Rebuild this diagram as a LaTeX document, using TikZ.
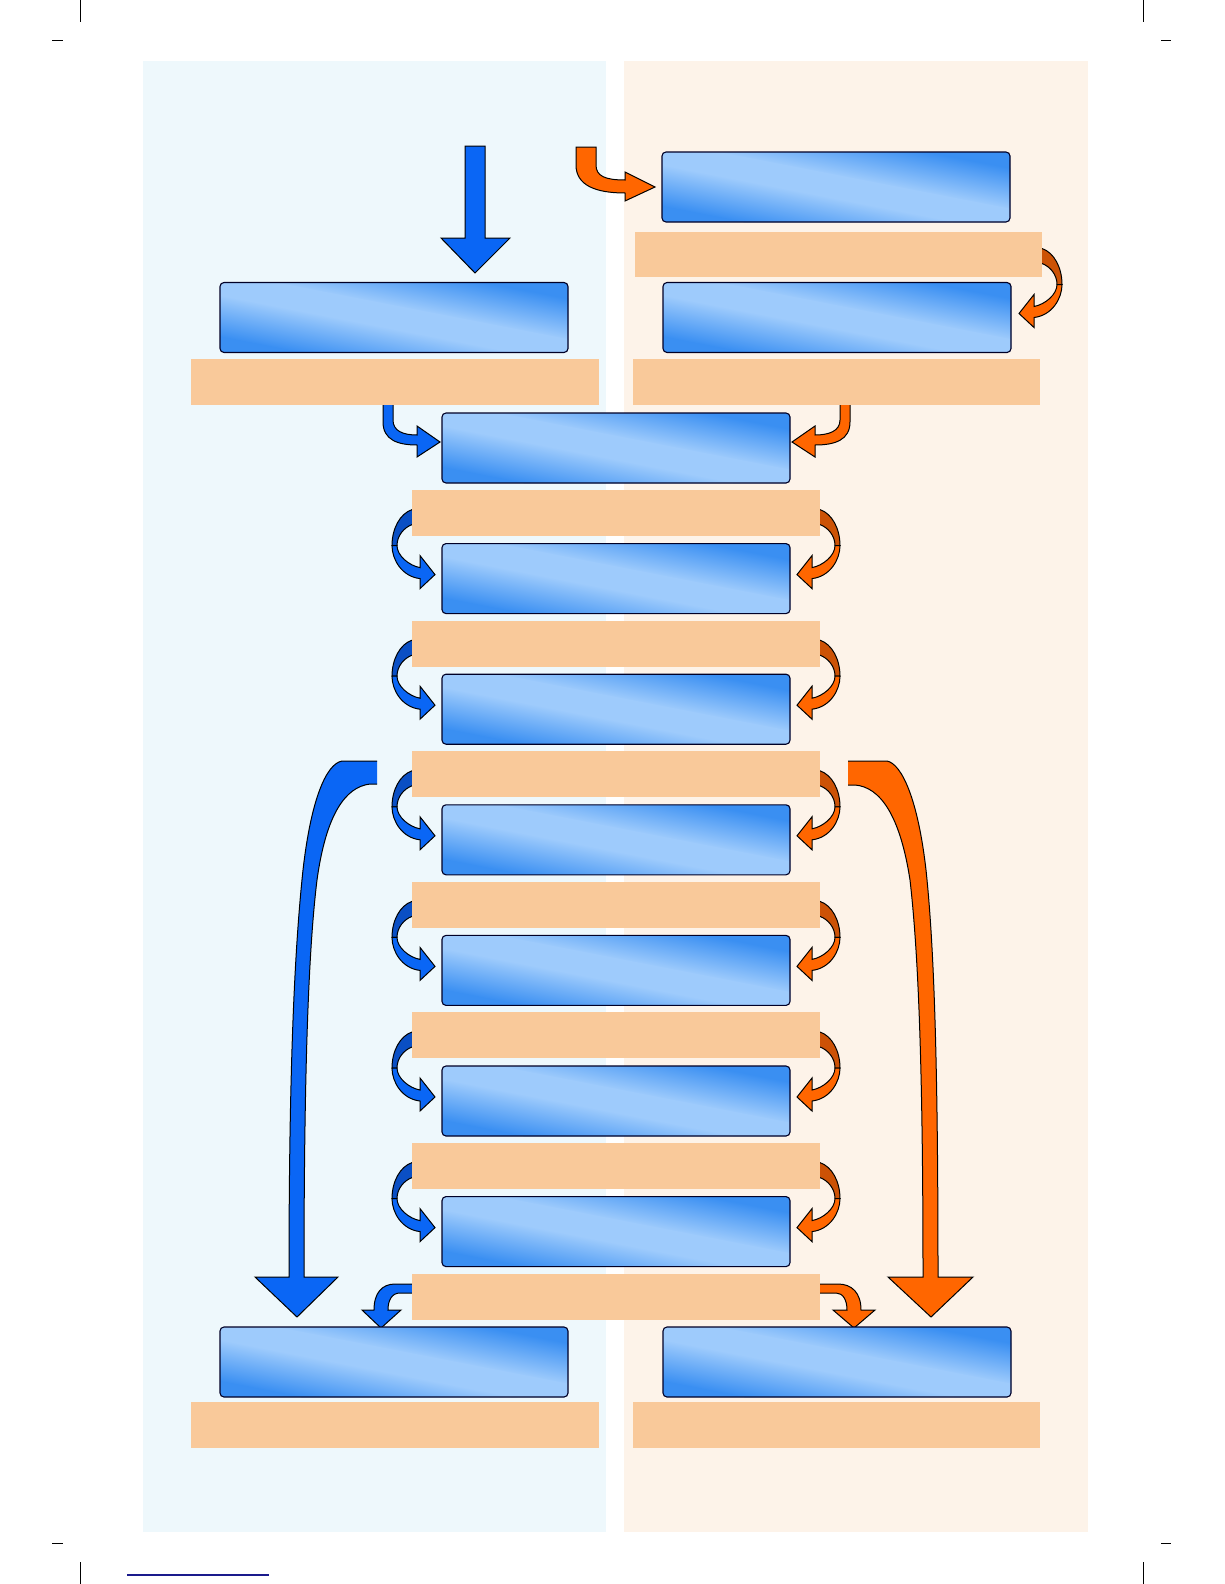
\documentclass[tikz,border=0pt]{standalone}
\usetikzlibrary{calc}
\definecolor{bgblue}{HTML}{EEF8FC}
\definecolor{bgorange}{HTML}{FDF3E9}
\definecolor{bandc}{HTML}{F9C99A}
\definecolor{ablue}{HTML}{0A66F5}
\definecolor{abluedark}{HTML}{0A4FC4}
\definecolor{aorange}{HTML}{FF6600}
\definecolor{aorangedark}{HTML}{CC5206}
\definecolor{bdark}{HTML}{3A8FF2}
\definecolor{blight}{HTML}{9ECBFC}
\definecolor{linkblue}{HTML}{1A1A8C}
\pgfdeclarelayer{bgl}
\pgfdeclarelayer{arrl}
\pgfdeclarelayer{boxl}
\pgfsetlayers{bgl,arrl,boxl,main}
\tikzset{
  bbox/.style={draw=black!85!blue, line width=1.1pt, rounded corners=4pt, minimum width=348pt, minimum height=70pt, inner sep=0pt, outer sep=0pt},
  band/.style={fill=bandc, minimum width=408pt, minimum height=46pt, inner sep=0pt, outer sep=0pt},
  arr/.style={draw=black, line width=1pt, line join=miter},
  crop/.style={draw=black, line width=0.9pt},
  pics/uturn/.style 2 args={code={
    \filldraw[arr, fill=#2] (6,-34) -- (0,-34) .. controls (-12,-30) and (-20,-15) .. (-20,2) -- (-15,2) .. controls (-15,-8) and (-8,-16) .. (0,-19) -- (6,-19) -- cycle;
    \filldraw[arr, fill=#1] (-20,2) .. controls (-20,16) and (-10,33) .. (8,35) -- (8,45) -- (23,31) -- (8,12) -- (8,24) .. controls (-3,22) and (-15,12) .. (-15,2) -- cycle;
  }},
}
% glassy fill of a box node (drawn on the box layer)
\newcommand\glassfill[1]{%
  \begin{pgfonlayer}{boxl}
  \begin{scope}
    \clip[rounded corners=4pt] (#1.south west) rectangle (#1.north east);
    \begin{scope}[transform canvas={rotate around={-11:(#1.center)}}]
      \fill[bdark] ($(#1.center)+(-240,-130)$) rectangle ($(#1.center)+(240,130)$);
      \shade[top color=bdark, bottom color=blight] ($(#1.center)+(-240,-52)$) rectangle ($(#1.center)+(240,-11)$);
      \shade[top color=blight, bottom color=bdark] ($(#1.center)+(-240,11)$) rectangle ($(#1.center)+(240,52)$);
      \fill[blight] ($(#1.center)+(-240,-12)$) rectangle ($(#1.center)+(240,12)$);
    \end{scope}
  \end{scope}
  \end{pgfonlayer}%
}
\begin{document}
\begin{tikzpicture}[x=1pt, y=-1pt]
\useasboundingbox (0,0) rectangle (1224,1584);
\begin{pgfonlayer}{bgl}
  \fill[bgblue] (143,61) rectangle (606,1532);
  \fill[bgorange] (624,61) rectangle (1088,1532);
\end{pgfonlayer}
% crop marks
\draw[crop] (80,0) -- (80,22);
\draw[crop] (52,40) -- (63,40);
\draw[crop] (1143,0) -- (1143,22);
\draw[crop] (1161,40) -- (1171,40);
\draw[crop] (80,1562) -- (80,1584);
\draw[crop] (52,1543) -- (63,1543);
\draw[crop] (1143,1562) -- (1143,1584);
\draw[crop] (1161,1543) -- (1171,1543);
\draw[linkblue, line width=1.2pt] (127,1575) -- (269,1575);
% boxes and bands
\node[bbox] (tr1) at (836,187) {};
\node[band, minimum width=407pt, minimum height=45pt] (trb1) at (838.5,254.5) {};
\node[bbox] (tr2) at (837,317.5) {};
\node[band, minimum width=407pt] (rb) at (836.5,381.5) {};
\node[bbox] (l1) at (394,317.5) {};
\node[band] (lb) at (395,382) {};
\foreach \k in {0,...,6} {
  \node[bbox] (c\k) at (616,448+130.6*\k) {};
  \node[band] (cb\k) at (616,513+130.6*\k) {};
}
\node[bbox] (bl) at (394,1362) {};
\node[bbox] (br) at (837,1362) {};
\node[band] (blb) at (395,1425) {};
\node[band, minimum width=407pt] (brb) at (836.5,1425) {};
\foreach \b in {tr1,tr2,l1,c0,c1,c2,c3,c4,c5,c6,bl,br} {\glassfill{\b}}
\begin{pgfonlayer}{arrl}
  % top straight blue arrow into l1
  \filldraw[arr, fill=ablue] (465,146) -- (485,146) -- (485,238) -- (510,238) -- (475,273) -- (441,238) -- (465,238) -- cycle;
  % top bent orange arrow into tr1
  \filldraw[arr, fill=aorange] (576,147) -- (596,147) -- (596,165) .. controls (596,176) and (605,180) .. (625,180) -- (625,172) -- (655,187) -- (625,201) -- (625,193) .. controls (595,193) and (576,185) .. (576,165) -- cycle;
  % small arrows into c0
  \filldraw[arr, fill=ablue] (383,400) -- (393,400) -- (393,420) .. controls (393,431) and (403,435) .. (417,435) -- (417,426) -- (440,442) -- (417,457) -- (417,445) .. controls (398,445) and (383,440) .. (383,422) -- cycle;
  \filldraw[arr, fill=aorange] (840,400) -- (850,400) -- (850,422) .. controls (850,440) and (835,445) .. (815,445) -- (815,457) -- (792,442) -- (815,426) -- (815,435) .. controls (829,435) and (840,431) .. (840,420) -- cycle;
  % u-turn arrows
  \pic[xscale=-1] at (trb1.east |- tr2.north) {uturn={aorange}{aorangedark}};
  \foreach \k [evaluate=\k as \n using int(\k+1)] in {0,...,5} {
    \pic at (cb\k.west |- c\n.north) {uturn={ablue}{abluedark}};
    \pic[xscale=-1] at (cb\k.east |- c\n.north) {uturn={aorange}{aorangedark}};
  }
  % big arrows
  \filldraw[arr, fill=ablue] (377,761) -- (342,761) .. controls (326,764) and (311,800) .. (303,870) .. controls (295,945) and (289,1060) .. (289,1277) -- (255,1277) -- (297,1317) -- (338,1277) -- (304,1277) .. controls (304,1060) and (309,945) .. (317,880) .. controls (326,815) and (345,787) .. (370,784) -- (377,784);
  \filldraw[arr, fill=aorange] (848,761) -- (887,761) .. controls (902,764) and (918,800) .. (926,870) .. controls (934,945) and (938,1060) .. (938,1277) -- (973,1277) -- (931,1317) -- (888,1277) -- (923,1277) .. controls (923,1060) and (918,950) .. (910,880) .. controls (900,815) and (880,787) .. (855,785) -- (848,785);
  % bottom small arrows
  \filldraw[arr, fill=ablue] (416,1284) -- (395,1284) .. controls (382,1284) and (374,1293) .. (374,1310) -- (362,1310) -- (381,1328) -- (401,1310) -- (388,1310) .. controls (388,1300) and (392,1293) .. (400,1293) -- (416,1293) -- cycle;
  \filldraw[arr, fill=aorange] (816,1284) -- (838,1284) .. controls (852,1284) and (861,1293) .. (861,1310) -- (875,1310) -- (854,1328) -- (833,1310) -- (847,1310) .. controls (847,1300) and (843,1293) .. (836,1293) -- (816,1293) -- cycle;
\end{pgfonlayer}
\end{tikzpicture}
\end{document}
